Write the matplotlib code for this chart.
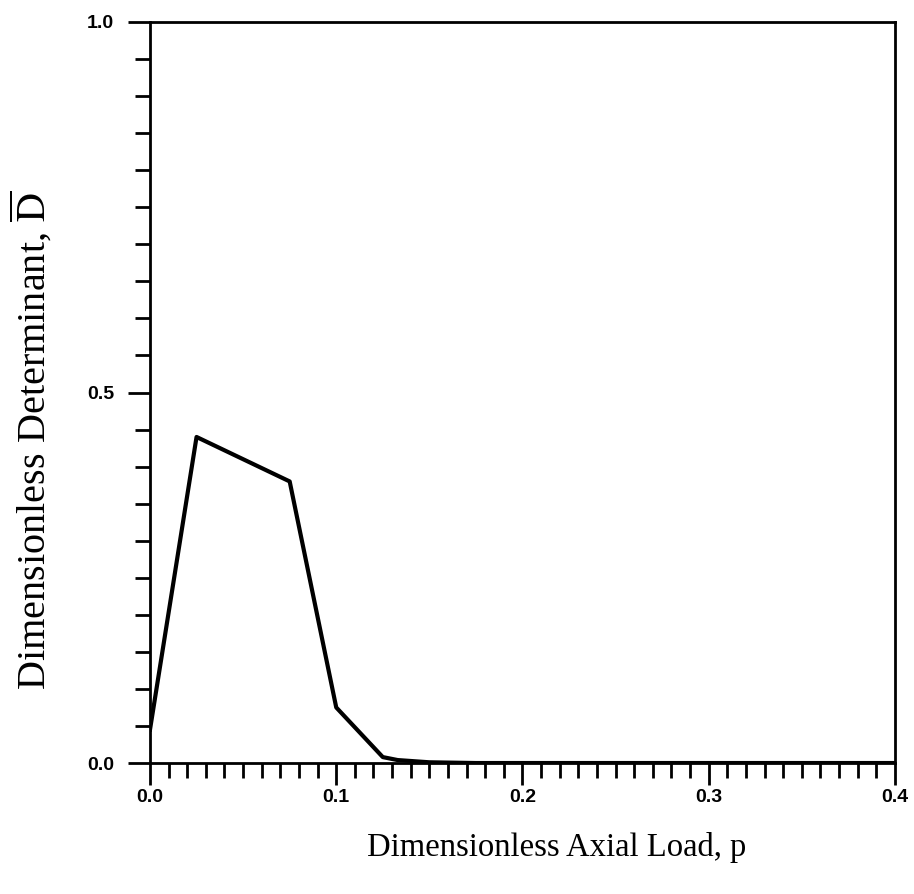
import numpy as np
import matplotlib.pyplot as plt
from matplotlib.ticker import MultipleLocator

# values
p = [0.0, 0.025, 0.075, 0.1, 0.125, 0.133, 0.15, 0.175, 0.2, 0.25, 0.3, 0.35, 0.4]
d = [0.045, 0.44, 0.38, 0.075, 0.008, 0.004, 0.001, 0.0, 0.0, 0.0, 0.0, 0.0, 0.0]
xticks = [0.0, 0.1, 0.2, 0.3, 0.4]
yticks = [0.0, 0.5, 1.0]

plt.rcParams['mathtext.fontset'] = 'stix'

fig = plt.figure(figsize=(9.14, 8.94), dpi=100)
ax = fig.add_axes([0.1641, 0.1465, 0.8151, 0.8289])
ax.plot(p, d, color='black', linewidth=3)

ax.set_xlim(0, 0.4)
ax.set_ylim(0, 1.0)
ax.set_xticks(xticks)
ax.set_yticks(yticks)
ax.set_xticklabels(['%.1f' % v for v in xticks])
ax.set_yticklabels(['%.1f' % v for v in yticks])
ax.xaxis.set_minor_locator(MultipleLocator(0.01))
ax.yaxis.set_minor_locator(MultipleLocator(0.05))

for s in ax.spines.values():
    s.set_linewidth(2)
ax.tick_params(which='major', direction='out', length=16, width=2, labelsize=14)
ax.tick_params(which='minor', direction='out', length=11, width=2)
ax.tick_params(axis='x', which='major', pad=3)
ax.tick_params(axis='y', which='major', pad=10)
for lab in ax.get_xticklabels() + ax.get_yticklabels():
    lab.set_fontweight('bold')
    lab.set_family('Liberation Sans')

ax.set_xlabel('Dimensionless Axial Load, p', family='Liberation Serif', fontsize=23.5)
ax.set_ylabel(r'Dimensionless Determinant, $\overline{\mathrm{D}}$', family='Liberation Serif', fontsize=29)
ax.xaxis.set_label_coords(0.546, -0.093)
ax.yaxis.set_label_coords(-0.128, 0.436)

plt.savefig('out.png', dpi=100)
